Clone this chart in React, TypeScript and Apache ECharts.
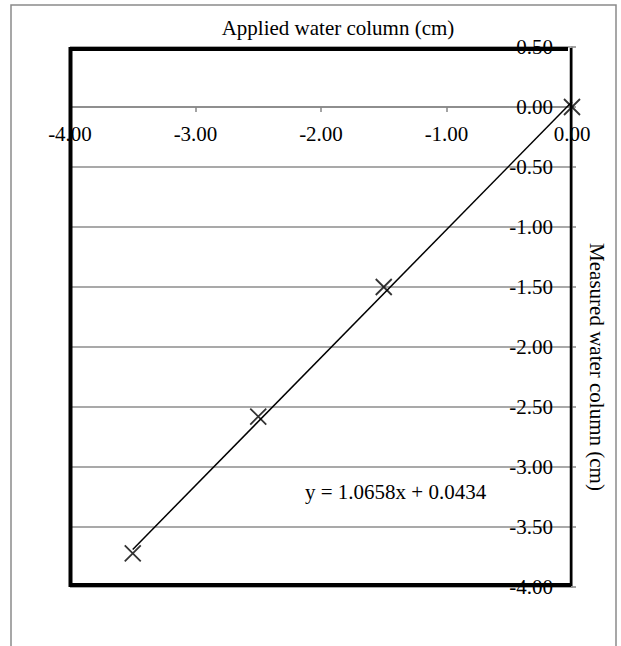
import React, { useEffect, useRef } from "react";
import * as echarts from "echarts";

// Applied vs measured water column (cm)
const appliedCm = [0, -1.5, -2.5, -3.5];
const measuredCm = [0.0, -1.5, -2.58, -3.72];

// Linear fit reported on the chart
const fitSlope = 1.0658;
const fitIntercept = 0.0434;
const fitRange = [-3.5, 0];

const xMin = -4;
const xMax = 0;
const xStep = 1;
const yMin = -4;
const yMax = 0.5;
const yStep = 0.5;

const xTitle = "Applied water column (cm)";
const yTitle = "Measured water column (cm)";
const fitLabel = `y = ${fitSlope.toFixed(4)}x + ${fitIntercept.toFixed(4)}`;

const FONT = '"Liberation Serif", "Times New Roman", serif';

export default function App() {
  const ref = useRef<HTMLDivElement>(null);

  useEffect(() => {
    if (!ref.current) return;
    const chart = echarts.init(ref.current, undefined, { renderer: "svg" });

    const points = appliedCm.map((x, i) => [x, measuredCm[i]]);
    const fitLine = fitRange.map((x) => [x, fitSlope * x + fitIntercept]);

    const gridLeft = 70;
    const gridTop = 47;
    const gridW = 502;
    const gridH = 540;
    // The horizontal axis crosses the vertical one at y = 0
    const xAxisOffset = -((yMax - 0) / (yMax - yMin)) * gridH;

    chart.setOption({
      animation: false,
      backgroundColor: "#ffffff",
      textStyle: { fontFamily: FONT },
      grid: {
        left: gridLeft,
        top: gridTop,
        width: gridW,
        height: gridH,
        containLabel: false,
      },
      xAxis: {
        type: "value",
        position: "top",
        offset: xAxisOffset,
        min: xMin,
        max: xMax,
        interval: xStep,
        axisLine: { onZero: false, lineStyle: { color: "#868686", width: 1.5 } },
        axisTick: { show: true, inside: true, length: 5, lineStyle: { color: "#868686", width: 1.5 } },
        axisLabel: {
          inside: true,
          showMinLabel: true,
          showMaxLabel: true,
          margin: 16,
          color: "#000",
          fontSize: 21,
          fontFamily: FONT,
          formatter: (v: number) => v.toFixed(2),
        },
        splitLine: { show: false },
      },
      yAxis: {
        type: "value",
        position: "right",
        min: yMin,
        max: yMax,
        interval: yStep,
        axisLine: { onZero: false, lineStyle: { color: "#868686", width: 1.5 } },
        axisTick: { show: true, length: 4, lineStyle: { color: "#868686", width: 1.5 } },
        axisLabel: {
          inside: true,
          showMinLabel: true,
          showMaxLabel: true,
          margin: 19,
          color: "#000",
          fontSize: 21,
          fontFamily: FONT,
          formatter: (v: number) => v.toFixed(2),
        },
        splitLine: { show: true, lineStyle: { color: "#8c8c8c", width: 1.5 } },
      },
      series: [
        {
          type: "line",
          data: fitLine,
          showSymbol: false,
          symbol: "none",
          silent: true,
          lineStyle: { color: "#000", width: 1.5 },
          z: 3,
        },
        {
          type: "scatter",
          data: points,
          symbol: "path://M0,0L10,10M10,0L0,10",
          symbolSize: 16,
          clip: false,
          itemStyle: { color: "rgba(0,0,0,0)", borderColor: "#000", borderWidth: 1.8 },
          z: 4,
        },
      ],
      graphic: [
        {
          type: "rect",
          z: 0,
          shape: { x: 11, y: 5, width: 605, height: 700 },
          style: { fill: "none", stroke: "#8a8a8a", lineWidth: 1.5 },
          silent: true,
        },
        {
          type: "polyline",
          z: 100,
          shape: {
            points: [
              [gridLeft + gridW - 4, gridTop + 2],
              [gridLeft + 0.5, gridTop + 2],
              [gridLeft + 0.5, gridTop + gridH - 2],
              [gridLeft + gridW - 1, gridTop + gridH - 2],
            ],
          },
          style: { fill: "none", stroke: "#000", lineWidth: 4 },
          silent: true,
        },
        {
          type: "line",
          z: 100,
          shape: {
            x1: gridLeft + gridW - 1,
            y1: gridTop + 1,
            x2: gridLeft + gridW - 1,
            y2: gridTop + gridH - 1,
          },
          style: { stroke: "#000", lineWidth: 2.5 },
          silent: true,
        },
        {
          type: "text",
          z: 101,
          x: 338,
          y: 28,
          style: {
            text: xTitle,
            fill: "#000",
            font: `21px ${FONT}`,
            textAlign: "center",
            textVerticalAlign: "middle",
          },
        },
        {
          type: "text",
          z: 101,
          x: 597,
          y: 367,
          rotation: -Math.PI / 2,
          style: {
            text: yTitle,
            fill: "#000",
            font: `21px ${FONT}`,
            textAlign: "center",
            textVerticalAlign: "middle",
          },
        },
        {
          type: "text",
          z: 101,
          x: 305,
          y: 492,
          style: {
            text: fitLabel,
            fill: "#000",
            font: `21px ${FONT}`,
            textAlign: "left",
            textVerticalAlign: "middle",
          },
        },
      ],
    });

    return () => chart.dispose();
  }, []);

  return (
    <div
      ref={ref}
      style={{ position: "fixed", left: 0, top: 0, width: 621, height: 646, background: "#fff" }}
    />
  );
}
